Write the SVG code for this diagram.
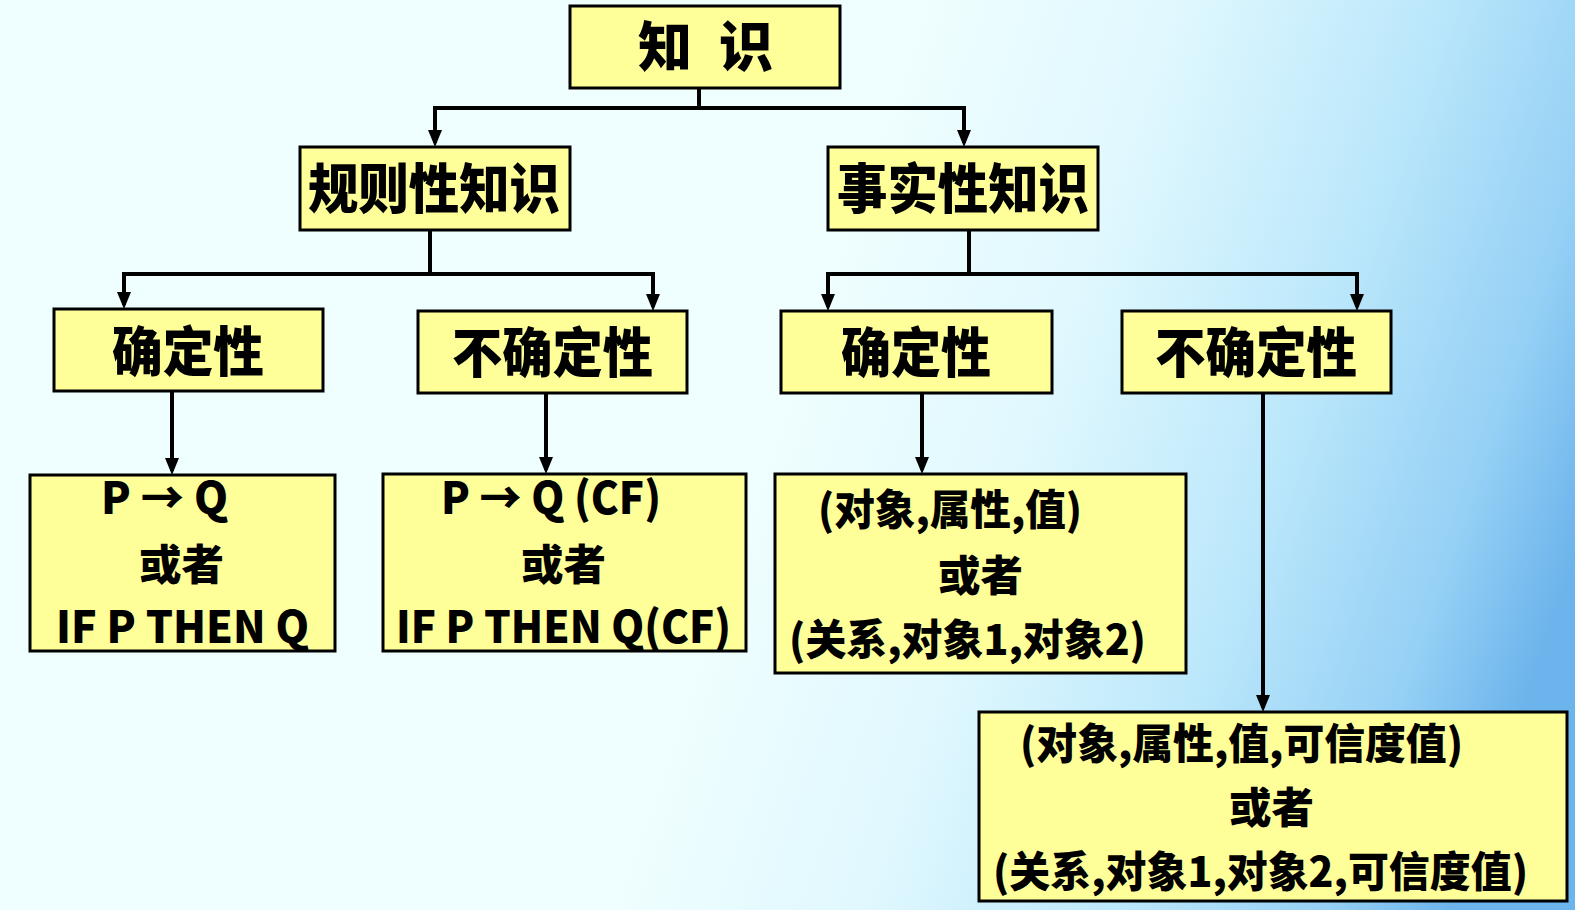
<svg xmlns="http://www.w3.org/2000/svg" width="1575" height="910" viewBox="0 0 1575 910">
  <defs>
    <linearGradient id="bg" gradientUnits="userSpaceOnUse" x1="820" y1="300" x2="1575" y2="560">
      <stop offset="0" stop-color="#effeff"/>
      <stop offset="0.3" stop-color="#e0f8fe"/>
      <stop offset="0.6" stop-color="#bce8fb"/>
      <stop offset="0.85" stop-color="#95d0f5"/>
      <stop offset="1" stop-color="#6cb4ec"/>
    </linearGradient>
    <marker id="arrow" markerUnits="userSpaceOnUse" markerWidth="17" markerHeight="14" refX="13" refY="7" orient="auto">
      <path d="M0,0 L17,7 L0,14 z" fill="#000"/>
    </marker>
    <style>
      .box { fill: #ffff99; stroke: #000; stroke-width: 3; }
      .t { font-family: "Noto Sans CJK SC", "Noto Sans", sans-serif; font-weight: 900; fill: #000; }
      .h { font-size: 54px; }
      .b { font-size: 42px; }
      .l { font-size: 44px; }
      .link { fill: none; stroke: #000; stroke-width: 4; marker-end: url(#arrow); }
    </style>
  </defs>

  <rect width="1575" height="910" fill="url(#bg)"/>

  <!-- connectors -->
  <g id="connectors">
    <path class="link" d="M699 88 V108 H435 V143"/>
    <path class="link" d="M699 108 H964 V143"/>
    <path class="link" d="M430 230 V274 H124 V305"/>
    <path class="link" d="M430 274 H653 V307"/>
    <path class="link" d="M969 230 V274 H828 V307"/>
    <path class="link" d="M969 274 H1357 V307"/>
    <path class="link" d="M172 391 V471"/>
    <path class="link" d="M546 393 V470"/>
    <path class="link" d="M922 393 V470"/>
    <path class="link" d="M1263 393 V708"/>
  </g>

  <!-- knowledge -->
  <g id="root">
    <rect class="box" x="570" y="6" width="270" height="82"/>
    <text class="t h" x="638 690 719" y="67">知 识</text>
  </g>

  <g id="rule-knowledge">
    <rect class="box" x="300" y="147" width="270" height="83"/>
    <text class="t h" x="308" y="209" textLength="252" lengthAdjust="spacingAndGlyphs">规则性知识</text>
  </g>

  <g id="fact-knowledge">
    <rect class="box" x="828" y="147" width="270" height="83"/>
    <text class="t h" x="837" y="209" textLength="252" lengthAdjust="spacingAndGlyphs">事实性知识</text>
  </g>

  <g id="rule-certain">
    <rect class="box" x="54" y="309" width="269" height="82"/>
    <text class="t h" x="112" y="372" textLength="152" lengthAdjust="spacingAndGlyphs">确定性</text>
  </g>

  <g id="rule-uncertain">
    <rect class="box" x="418" y="311" width="269" height="82"/>
    <text class="t h" x="452" y="373" textLength="201" lengthAdjust="spacingAndGlyphs">不确定性</text>
  </g>

  <g id="fact-certain">
    <rect class="box" x="781" y="311" width="271" height="82"/>
    <text class="t h" x="841" y="373" textLength="150" lengthAdjust="spacingAndGlyphs">确定性</text>
  </g>

  <g id="fact-uncertain">
    <rect class="box" x="1122" y="311" width="269" height="82"/>
    <text class="t h" x="1155" y="373" textLength="202" lengthAdjust="spacingAndGlyphs">不确定性</text>
  </g>

  <g id="rule-certain-form">
    <rect class="box" x="30" y="475" width="305" height="176"/>
    <text class="t l" x="101" y="514" textLength="127" lengthAdjust="spacingAndGlyphs">P → Q</text>
    <text class="t b" x="139" y="580" textLength="85" lengthAdjust="spacingAndGlyphs">或者</text>
    <text class="t l" x="56" y="643" textLength="253" lengthAdjust="spacingAndGlyphs">IF P THEN Q</text>
  </g>

  <g id="rule-uncertain-form">
    <rect class="box" x="383" y="474" width="363" height="177"/>
    <text class="t l" x="441" y="514" textLength="220" lengthAdjust="spacingAndGlyphs">P → Q (CF)</text>
    <text class="t b" x="521" y="580" textLength="85" lengthAdjust="spacingAndGlyphs">或者</text>
    <text class="t l" x="396" y="643" textLength="335" lengthAdjust="spacingAndGlyphs">IF P THEN Q(CF)</text>
  </g>

  <g id="fact-certain-form">
    <rect class="box" x="775" y="474" width="411" height="199"/>
    <text class="t b" x="818" y="525" textLength="264" lengthAdjust="spacingAndGlyphs">(对象,属性,值)</text>
    <text class="t b" x="938" y="591" textLength="85" lengthAdjust="spacingAndGlyphs">或者</text>
    <text class="t b" x="789" y="655" textLength="357" lengthAdjust="spacingAndGlyphs">(关系,对象1,对象2)</text>
  </g>

  <g id="fact-uncertain-form">
    <rect class="box" x="979" y="712" width="588" height="189"/>
    <text class="t b" x="1020" y="759" textLength="443" lengthAdjust="spacingAndGlyphs">(对象,属性,值,可信度值)</text>
    <text class="t b" x="1229" y="823" textLength="85" lengthAdjust="spacingAndGlyphs">或者</text>
    <text class="t b" x="993" y="887" textLength="535" lengthAdjust="spacingAndGlyphs">(关系,对象1,对象2,可信度值)</text>
  </g>
</svg>
